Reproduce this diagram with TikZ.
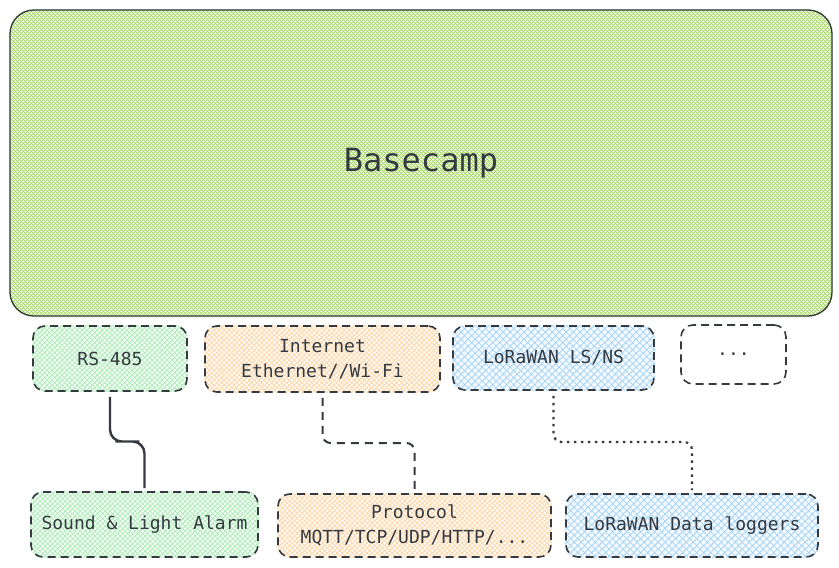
\documentclass[tikz,border=0pt]{standalone}
\usepackage{fontspec}
\setmonofont{DejaVu Sans Mono}
\usetikzlibrary{calc,backgrounds}

\definecolor{ink}{HTML}{343A40}
\definecolor{lime}{HTML}{9CD256}
\definecolor{mint}{HTML}{A6EBB0}
\definecolor{peach}{HTML}{FFD3A0}
\definecolor{sky}{HTML}{9ACFFA}

% cross hatching inside a node: name, colour, corner radius, spacing
\newcommand{\hatchnode}[4]{%
  \begin{scope}
    \clip[rounded corners=#3] (#1.north west) rectangle (#1.south east);
    \fill[#2!12] (#1.north west) rectangle (#1.south east);
    \pgfmathsetmacro{\hstep}{-320+#4}
    \foreach \k in {-320,\hstep,...,1140} {
      \draw[#2, line width=.6pt] ($(#1.north west)+(\k,0)$) -- ++(320,320);
      \draw[#2, line width=.6pt] ($(#1.north west)+(\k,0)$) -- ++(-320,320);
    }
  \end{scope}}

\tikzset{
  card/.style={draw=ink, line width=1.6pt, dash pattern=on 8pt off 5pt, rounded corners=12pt, inner sep=0pt,
    font=\ttfamily\fontsize{18}{25}\selectfont, text=ink, align=center},
  link/.style={draw=ink, line width=2pt, rounded corners=8pt, shorten <=5pt, shorten >=3pt},
}

\begin{document}
\begin{tikzpicture}[x=1pt,y=-1pt]
  \useasboundingbox (0,0) rectangle (839,568);

  \node (base) [draw=ink, line width=1.3pt, rounded corners=24pt,
    minimum width=822pt, minimum height=306pt, text=ink,
    font=\ttfamily\fontsize{32}{38}\selectfont] at (421,163) {Basecamp};

  \begin{scope}[every node/.style={card}]
    \node (rs)      [minimum width=154pt, minimum height=65pt] at (110,358.5) {RS-485};
    \node (net)     [minimum width=235pt, minimum height=66pt] at (322.5,359) {Internet\\Ethernet//Wi-Fi};
    \node (lora)    [minimum width=201pt, minimum height=64pt] at (553.5,358) {LoRaWAN LS/NS};
    \node (more)    [minimum width=105pt, minimum height=59pt] at (733.5,354.5) {...};
    \node (alarm)   [minimum width=227pt, minimum height=65pt] at (144.5,524.5) {Sound \& Light Alarm};
    \node (proto)   [minimum width=273pt, minimum height=63pt] at (414.5,525.5) {Protocol\\MQTT/TCP/UDP/HTTP/...};
    \node (loggers) [minimum width=252pt, minimum height=63pt] at (692,525.5) {LoRaWAN Data loggers};
  \end{scope}

  \begin{pgfonlayer}{background}
    \hatchnode{base}{lime}{24pt}{4}
    \hatchnode{rs}{mint}{12pt}{5}
    \hatchnode{alarm}{mint}{12pt}{5}
    \hatchnode{net}{peach}{12pt}{5}
    \hatchnode{proto}{peach}{12pt}{5}
    \hatchnode{lora}{sky}{12pt}{7}
    \hatchnode{loggers}{sky}{12pt}{7}
  \end{pgfonlayer}

  % links between the two rows
  \draw[link, line width=2.4pt, rounded corners=12pt] (rs.south) |- ($(rs.south)!.5!(alarm.north)$) -| (alarm.north);
  \draw[link, dash pattern=on 8pt off 6pt] (net.south) |- ($(net.south)!.5!(proto.north)$) -| (proto.north);
  \draw[link, line width=2.2pt, dash pattern=on 2.5pt off 4.5pt] (lora.south) |- ($(lora.south)!.5!(loggers.north)$) -| (loggers.north);

\end{tikzpicture}
\end{document}
